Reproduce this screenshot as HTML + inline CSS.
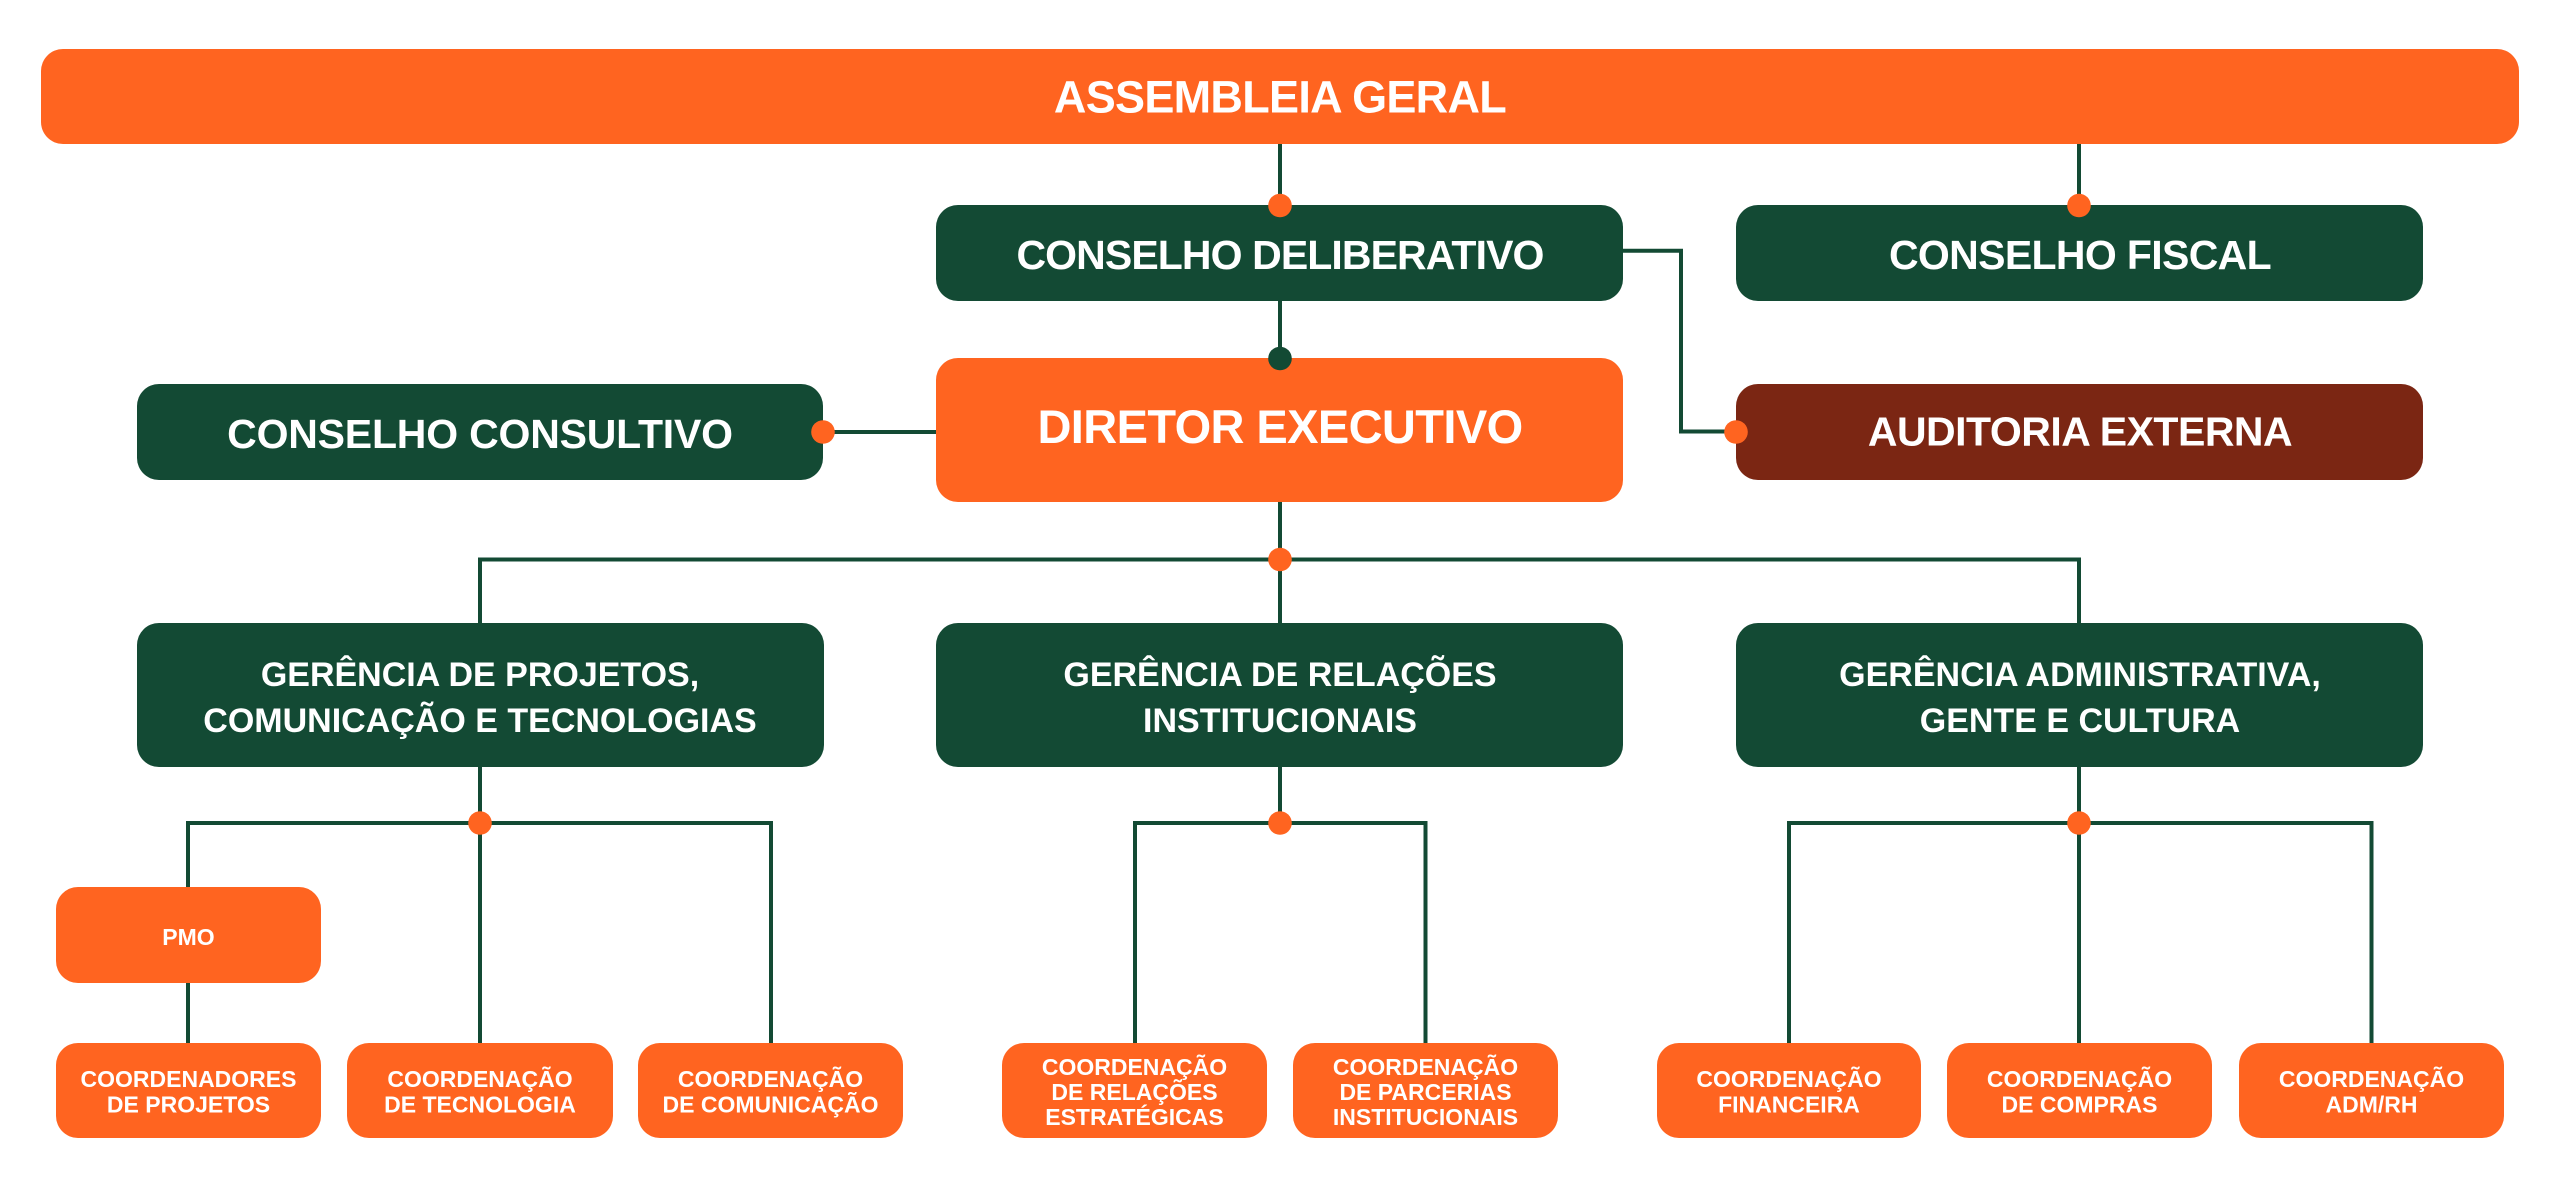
<!DOCTYPE html>
<html>
<head>
<meta charset="utf-8">
<style>
  html,body{margin:0;padding:0;background:#ffffff;}
  body{width:2560px;height:1187px;overflow:hidden;}
  svg{display:block;}
  text{font-family:"Liberation Sans","DejaVu Sans",Arial,sans-serif;font-weight:bold;fill:#ffffff;text-anchor:middle;}
</style>
</head>
<body>
<svg width="2560" height="1187" viewBox="0 0 2560 1187" xmlns="http://www.w3.org/2000/svg">
  <!-- connectors -->
  <g stroke="#134a34" stroke-width="4" fill="none" stroke-linecap="butt">
    <line x1="1280" y1="144" x2="1280" y2="206"/>
    <line x1="2079" y1="144" x2="2079" y2="206"/>
    <line x1="1280" y1="300" x2="1280" y2="360"/>
    <polyline points="1622,250.7 1681,250.7 1681,431.5 1737,431.5"/>
    <line x1="822" y1="432" x2="937" y2="432"/>
    <line x1="1280" y1="500" x2="1280" y2="625"/>
    <polyline points="480,625 480,559.5 2079,559.5 2079,625"/>
    <!-- gerencia projetos -->
    <line x1="480" y1="765" x2="480" y2="1045"/>
    <polyline points="188,889 188,823 771,823 771,1045"/>
    <line x1="188" y1="980" x2="188" y2="1045"/>
    <!-- gerencia relacoes -->
    <line x1="1280" y1="765" x2="1280" y2="823"/>
    <polyline points="1135,1045 1135,823 1425.5,823 1425.5,1045"/>
    <!-- gerencia admin -->
    <line x1="2079" y1="765" x2="2079" y2="1045"/>
    <polyline points="1789,1045 1789,823 2371.5,823 2371.5,1045"/>
  </g>

  <!-- boxes -->
  <rect x="41" y="49" width="2478" height="95" rx="22" fill="#ff6420"/>
  <rect x="936" y="205" width="687" height="96" rx="22" fill="#134a34"/>
  <rect x="1736" y="205" width="687" height="96" rx="22" fill="#134a34"/>
  <rect x="936" y="358" width="687" height="144" rx="22" fill="#ff6420"/>
  <rect x="137" y="384" width="686" height="96" rx="22" fill="#134a34"/>
  <rect x="1736" y="384" width="687" height="96" rx="22" fill="#7b2613"/>

  <rect x="137" y="623" width="687" height="144" rx="22" fill="#134a34"/>
  <rect x="936" y="623" width="687" height="144" rx="22" fill="#134a34"/>
  <rect x="1736" y="623" width="687" height="144" rx="22" fill="#134a34"/>

  <rect x="56" y="887" width="265" height="96" rx="22" fill="#ff6420"/>

  <g fill="#ff6420">
    <rect x="56" y="1043" width="265" height="95" rx="22"/>
    <rect x="347" y="1043" width="266" height="95" rx="22"/>
    <rect x="638" y="1043" width="265" height="95" rx="22"/>
    <rect x="1002" y="1043" width="265" height="95" rx="22"/>
    <rect x="1293" y="1043" width="265" height="95" rx="22"/>
    <rect x="1657" y="1043" width="264" height="95" rx="22"/>
    <rect x="1947" y="1043" width="265" height="95" rx="22"/>
    <rect x="2239" y="1043" width="265" height="95" rx="22"/>
  </g>

  <!-- dots -->
  <g fill="#ff6420">
    <circle cx="1280" cy="205.5" r="11.8"/>
    <circle cx="2079" cy="205.5" r="11.8"/>
    <circle cx="823" cy="432" r="11.8"/>
    <circle cx="1736" cy="432" r="11.8"/>
    <circle cx="1280" cy="559.5" r="11.8"/>
    <circle cx="480" cy="823" r="11.8"/>
    <circle cx="1280" cy="823" r="11.8"/>
    <circle cx="2079" cy="823" r="11.8"/>
  </g>
  <circle cx="1280" cy="358.5" r="11.8" fill="#134a34"/>

  <!-- labels -->
  <text x="1280" y="112.5" font-size="45" style="letter-spacing:-0.7px">ASSEMBLEIA GERAL</text>
  <text x="1280" y="269" font-size="41" style="letter-spacing:-0.9px">CONSELHO DELIBERATIVO</text>
  <text x="2080" y="269" font-size="41" style="letter-spacing:-0.65px">CONSELHO FISCAL</text>
  <text x="1280" y="443" font-size="47" style="letter-spacing:-0.6px">DIRETOR EXECUTIVO</text>
  <text x="480" y="448" font-size="41" style="letter-spacing:-0.2px">CONSELHO CONSULTIVO</text>
  <text x="2080" y="445.5" font-size="41" style="letter-spacing:-0.5px">AUDITORIA EXTERNA</text>

  <text x="480" font-size="34"><tspan x="480" y="686">GERÊNCIA DE PROJETOS,</tspan><tspan x="480" y="732">COMUNICAÇÃO E TECNOLOGIAS</tspan></text>
  <text x="1280" font-size="34"><tspan x="1280" y="686">GERÊNCIA DE RELAÇÕES</tspan><tspan x="1280" y="732">INSTITUCIONAIS</tspan></text>
  <text x="2080" font-size="34"><tspan x="2080" y="686">GERÊNCIA ADMINISTRATIVA,</tspan><tspan x="2080" y="732">GENTE E CULTURA</tspan></text>

  <text x="188.5" y="945" font-size="23">PMO</text>

  <g font-size="23">
    <text><tspan x="188.5" y="1087">COORDENADORES</tspan><tspan x="188.5" y="1112.5">DE PROJETOS</tspan></text>
    <text><tspan x="480" y="1087">COORDENAÇÃO</tspan><tspan x="480" y="1112.5">DE TECNOLOGIA</tspan></text>
    <text><tspan x="770.5" y="1087">COORDENAÇÃO</tspan><tspan x="770.5" y="1112.5">DE COMUNICAÇÃO</tspan></text>
    <text><tspan x="1134.5" y="1075">COORDENAÇÃO</tspan><tspan x="1134.5" y="1100">DE RELAÇÕES</tspan><tspan x="1134.5" y="1125">ESTRATÉGICAS</tspan></text>
    <text><tspan x="1425.5" y="1075">COORDENAÇÃO</tspan><tspan x="1425.5" y="1100">DE PARCERIAS</tspan><tspan x="1425.5" y="1125">INSTITUCIONAIS</tspan></text>
    <text><tspan x="1789" y="1087">COORDENAÇÃO</tspan><tspan x="1789" y="1112.5">FINANCEIRA</tspan></text>
    <text><tspan x="2079.5" y="1087">COORDENAÇÃO</tspan><tspan x="2079.5" y="1112.5">DE COMPRAS</tspan></text>
    <text><tspan x="2371.5" y="1087">COORDENAÇÃO</tspan><tspan x="2371.5" y="1112.5">ADM/RH</tspan></text>
  </g>
</svg>
</body>
</html>
